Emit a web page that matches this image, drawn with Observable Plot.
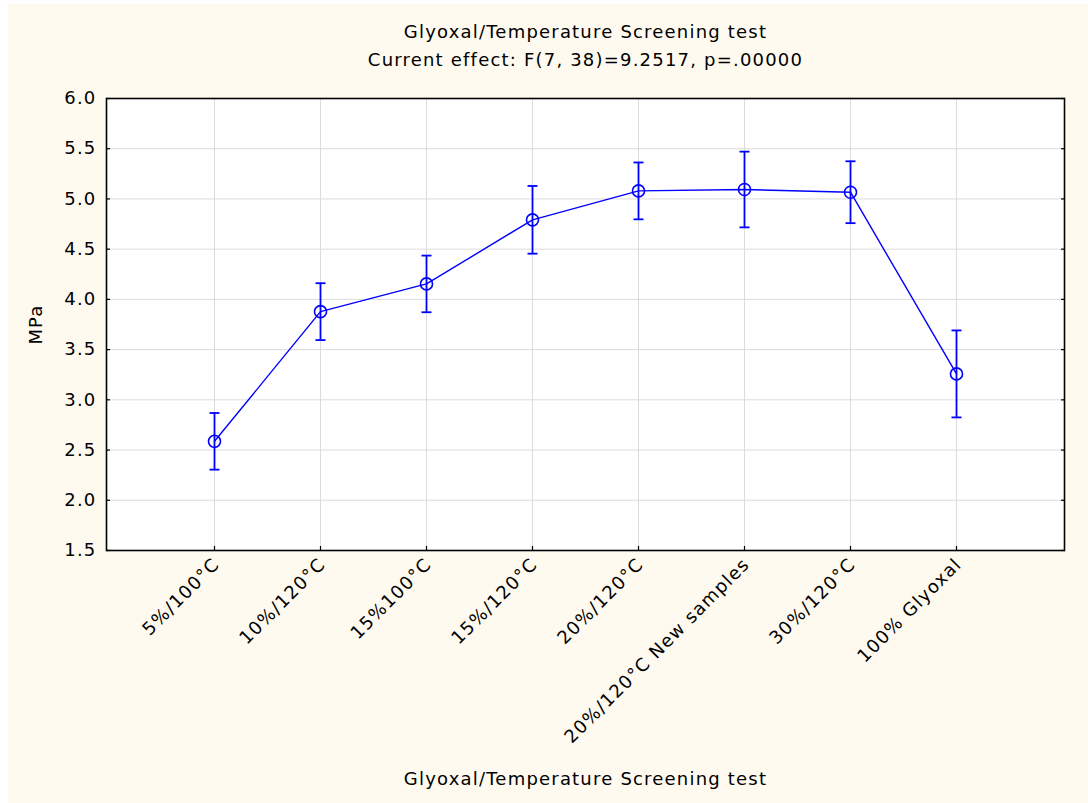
<!DOCTYPE html>
<html>
<head>
<meta charset="utf-8">
<script src="https://cdn.jsdelivr.net/npm/d3@7"></script>
<script src="https://cdn.jsdelivr.net/npm/@observablehq/plot@0.6"></script>
<style>
  html, body { margin: 0; padding: 0; background: #ffffff; }
  #chart { position: absolute; left: 8px; top: 4px; }
</style>
</head>
<body>
<div id="chart"></div>
<script>
const categories = [
  "5%/100°C", "10%/120°C", "15%100°C", "15%/120°C",
  "20%/120°C", "20%/120°C New samples", "30%/120°C", "100% Glyoxal"
];
const means  = [2.587, 3.878, 4.154, 4.792, 5.080, 5.094, 5.067, 3.258];
const errors = [0.282, 0.283, 0.282, 0.337, 0.283, 0.377, 0.308, 0.433];
const yTicks = [1.5, 2.0, 2.5, 3.0, 3.5, 4.0, 4.5, 5.0, 5.5, 6.0];
const title = "Glyoxal/Temperature Screening test";
const subtitle = "Current effect: F(7, 38)=9.2517, p=.00000";
const xLabel = "Glyoxal/Temperature Screening test";
const yLabel = "MPa";

const data = categories.map((c, i) => ({cat: c, mean: means[i], lo: means[i] - errors[i], hi: means[i] + errors[i]}));
const blue = "#0000ff";
const grid = "#dcdcdc";
const fmt = d3.format(".1f");

// horizontal-dash symbol used for error-bar caps
const capSymbol = {
  draw(context, size) {
    const w = Math.sqrt(size / Math.PI);
    context.moveTo(-w, 0);
    context.lineTo(w, 0);
  }
};

const chart = Plot.plot({
  width: 1080,
  height: 799,
  marginLeft: 98,
  marginRight: 24,
  marginTop: 94,
  marginBottom: 253,
  style: {background: "#fffaf0", fontFamily: "'DejaVu Sans', sans-serif", fontSize: "18px", letterSpacing: "1.2px", color: "black"},
  x: {type: "point", domain: categories, padding: 1, label: null, axis: null},
  y: {domain: [1.5, 6], label: null, axis: null},
  marks: [
    Plot.frame({fill: "white", stroke: null}),
    Plot.gridY(yTicks, {stroke: grid, strokeOpacity: 1, strokeWidth: 1}),
    Plot.gridX(categories, {stroke: grid, strokeOpacity: 1, strokeWidth: 1}),
    Plot.axisY(yTicks, {anchor: "left", tickSize: 0, tickPadding: 10, tickFormat: fmt, fontSize: 18, label: null}),
    Plot.axisY(yTicks, {anchor: "left", tickSize: -4, tickFormat: () => "", label: null, strokeWidth: 1.2}),
    Plot.axisY(yTicks, {anchor: "right", tickSize: -4, tickFormat: () => "", label: null, strokeWidth: 1.2}),
    Plot.axisX(categories, {anchor: "bottom", tickSize: -4, tickFormat: () => "", label: null, strokeWidth: 1.2}),
    Plot.frame({stroke: "black", strokeWidth: 1.6}),
    Plot.text(categories, {x: d => d, text: d => d, frameAnchor: "bottom", rotate: -45, textAnchor: "end", lineAnchor: "middle", dy: 11, dx: 2, fontSize: 18}),
    Plot.ruleX(data, {x: "cat", y1: "lo", y2: "hi", stroke: blue, strokeWidth: 1.8}),
    Plot.dot(data, {x: "cat", y: "lo", symbol: capSymbol, r: 5, stroke: blue, strokeWidth: 1.8, fill: "none"}),
    Plot.dot(data, {x: "cat", y: "hi", symbol: capSymbol, r: 5, stroke: blue, strokeWidth: 1.8, fill: "none"}),
    Plot.line(data, {x: "cat", y: "mean", stroke: blue, strokeWidth: 1.4}),
    Plot.dot(data, {x: "cat", y: "mean", r: 6, stroke: blue, strokeWidth: 1.6, fill: "none"}),
    Plot.text([title], {text: d => d, frameAnchor: "top", lineAnchor: "middle", dy: -66, fontSize: 18}),
    Plot.text([subtitle], {text: d => d, frameAnchor: "top", lineAnchor: "middle", dy: -38, fontSize: 18}),
    Plot.text([xLabel], {text: d => d, frameAnchor: "bottom", lineAnchor: "middle", dy: 229, fontSize: 18}),
    Plot.text([yLabel], {text: d => d, frameAnchor: "left", textAnchor: "middle", lineAnchor: "middle", dx: -70, rotate: -90, fontSize: 18})
  ]
});
document.getElementById("chart").appendChild(chart);
</script>
</body>
</html>
